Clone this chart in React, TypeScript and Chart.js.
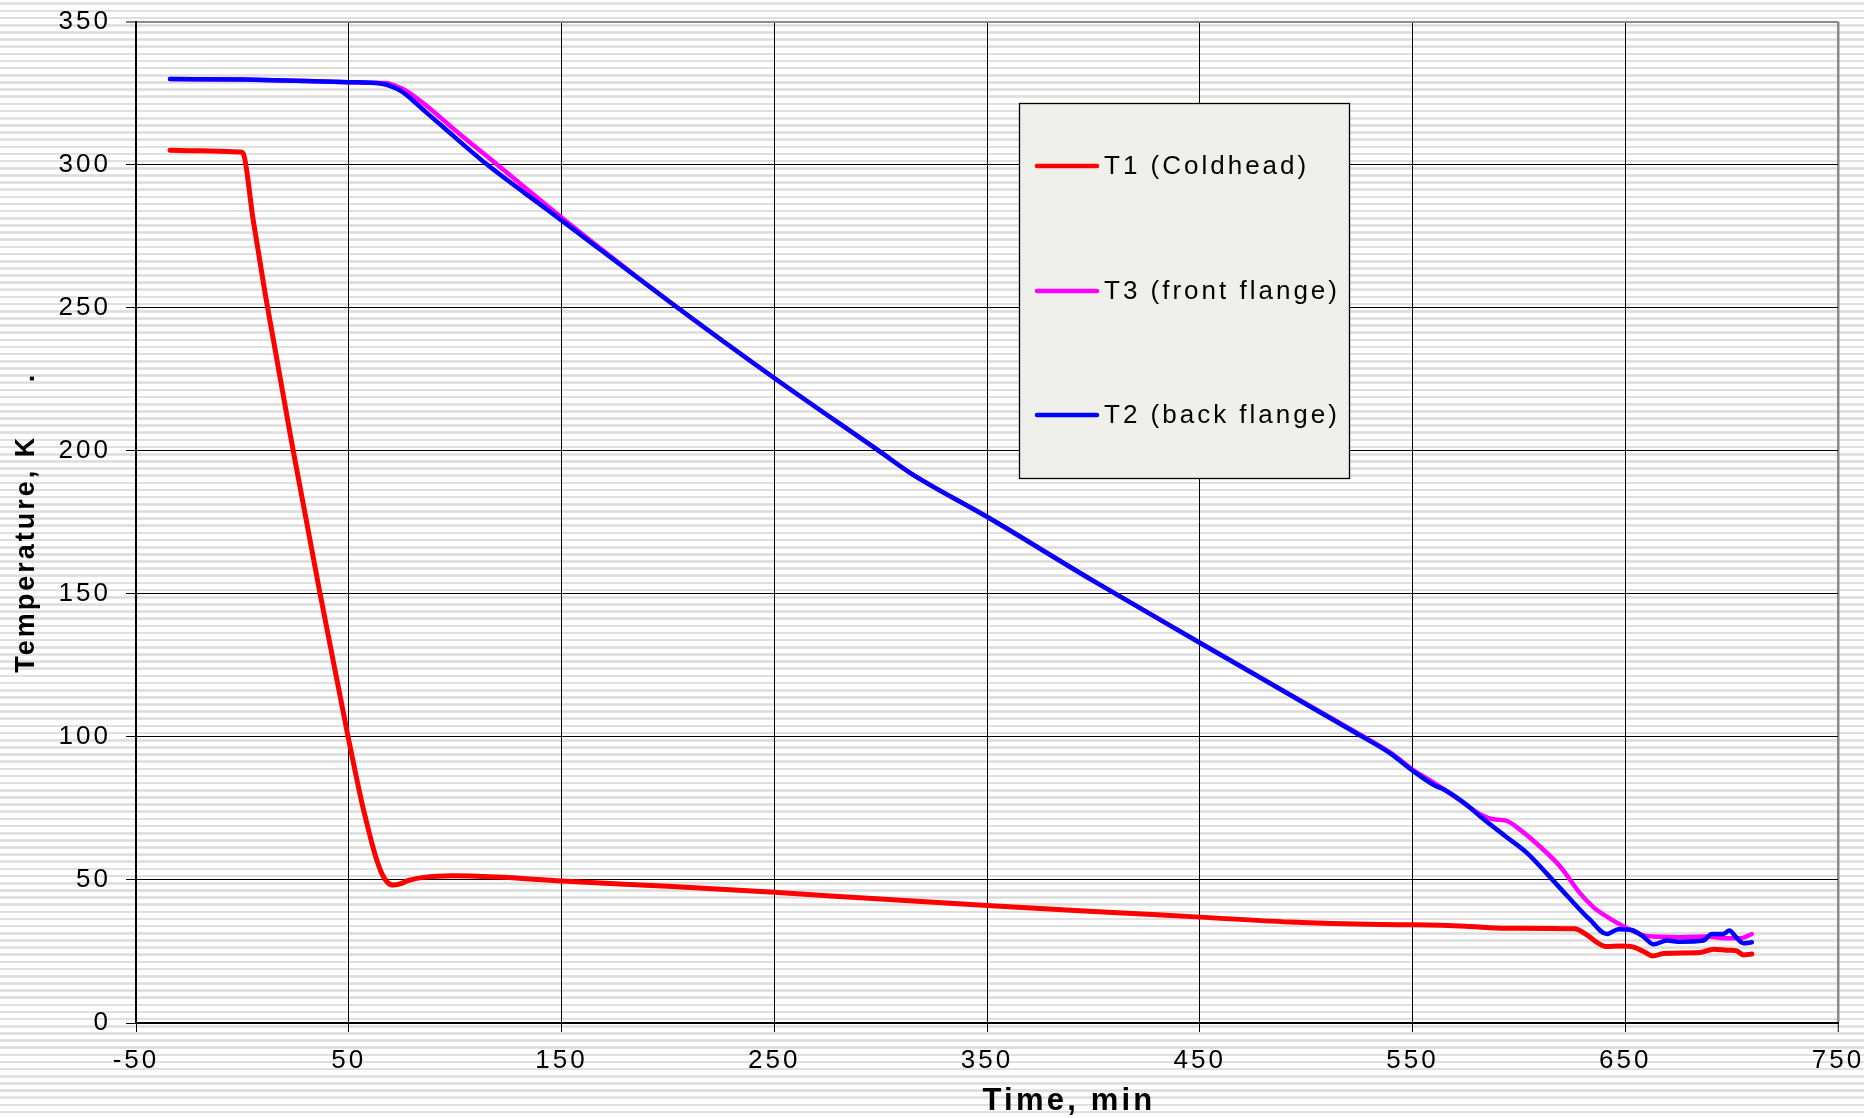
import { useEffect, useRef } from "react";
import { Chart, registerables } from "chart.js";

Chart.register(...registerables);

// ---- data ----
const xTickValues = [-50, 50, 150, 250, 350, 450, 550, 650, 750];
const yTickValues = [0, 50, 100, 150, 200, 250, 300, 350];

const seriesLabels = ["T1 (Coldhead)", "T3 (front flange)", "T2 (back flange)"];
const seriesColors = ["#ff0000", "#ff00ff", "#0000ff"];

const t1Time = [-34, -20, -1, 0.3, 5, 10.9, 23.4, 36.4, 49.7, 53, 56, 58.6, 61, 63.3, 65.5, 68, 71, 74, 78, 85, 99, 120, 150, 200, 250, 300, 350, 400, 450, 492, 535, 551, 575, 594, 626, 632, 636, 641, 648, 654, 659, 663, 668, 685, 691.5, 699, 702, 705.6, 709.5];
const t1Temp = [305.0, 304.8, 304.4, 304.0, 281, 254, 202, 150.5, 100, 88, 77.5, 69.5, 62.5, 56.6, 52.3, 49.3, 48.2, 48.6, 49.8, 50.9, 51.5, 51.0, 49.6, 47.8, 45.7, 43.3, 41.1, 39.0, 37.0, 35.3, 34.4, 34.3, 33.8, 33.1, 32.9, 30.8, 28.5, 26.7, 26.9, 26.5, 24.8, 23.4, 24.3, 24.6, 25.8, 25.4, 25.3, 23.8, 24.1];

const t3Time = [-34, 0, 30, 50, 65, 68, 72, 77.4, 86.8, 100, 119.7, 150, 200, 250, 300, 314, 350, 400, 450, 500, 523, 540, 550, 560, 570, 582, 588, 594, 600.6, 610, 619.4, 628.8, 635, 641.3, 650, 660, 676, 687, 699, 704, 709.5];
const t3Temp = [329.9, 329.7, 329.2, 328.8, 328.5, 328.4, 327.5, 325.6, 320.4, 312, 300, 281.5, 252.5, 225.4, 199.5, 192.2, 176.9, 154.5, 132.9, 111.6, 101.8, 94.3, 88.6, 84, 79, 72.9, 71.2, 70.7, 67.5, 61.6, 54.7, 45.3, 40.5, 37.2, 33.5, 30.4, 30.0, 30.2, 29.6, 29.6, 31.1];

const t2Time = [-34, 0, 30, 50, 65, 70, 75, 80, 86, 93, 115, 143, 150, 200, 250, 300, 314, 350, 400, 450, 500, 523, 540, 550, 560, 565, 575, 582, 594, 604, 613, 623, 633.5, 641.3, 646.8, 653, 658.5, 663.3, 669.5, 676, 686.7, 690.7, 696, 699, 701.6, 705.6, 709.5];
const t2Temp = [329.9, 329.7, 329.2, 328.8, 328.3, 327.3, 325.5, 322.5, 318.5, 314, 300, 284.4, 280.5, 252.5, 225.4, 199.5, 192.2, 176.9, 154.5, 132.9, 111.4, 101.5, 94.0, 88.2, 83.2, 81.5, 76.5, 72.1, 65.1, 59.3, 52.3, 44.2, 36.0, 31.1, 32.8, 32.5, 30.2, 27.5, 28.8, 28.4, 28.8, 31.1, 31.1, 32.3, 30.4, 27.9, 28.2];

const xTitle = "Time, min";
const yTitle = "Temperature, K     .";

const FONT = "'Liberation Sans', Arial, Helvetica, sans-serif";

const toPoints = (xs: number[], ys: number[]) => xs.map((x, i) => ({ x, y: ys[i] }));

const spacingPlugin = {
  id: "letterSpacing",
  beforeLayout(chart: any) {
    chart.ctx.letterSpacing = "3px";
  },
  beforeDraw(chart: any) {
    chart.ctx.letterSpacing = "3px";
  },
};

const xTitlePlugin = {
  id: "xTitle",
  afterDraw(chart: any) {
    const ctx = chart.ctx as CanvasRenderingContext2D;
    ctx.save();
    (ctx as any).letterSpacing = "3.2px";
    ctx.font = `bold 31px ${FONT}`;
    ctx.fillStyle = "#000000";
    ctx.textAlign = "center";
    ctx.textBaseline = "middle";
    ctx.fillText(xTitle, 1069, 1101);
    ctx.restore();
  },
};

const boxLegendPlugin = {
  id: "boxLegend",
  afterDatasetsDraw(chart: any) {
    const ctx = chart.ctx as CanvasRenderingContext2D;
    const left = 1019.5, top = 103.5, w = 330, h = 375;
    ctx.save();
    ctx.fillStyle = "#eff0ec";
    ctx.fillRect(left, top, w, h);
    ctx.strokeStyle = "#000000";
    ctx.lineWidth = 1.3;
    ctx.strokeRect(left, top, w, h);
    const rowY = [166, 291, 415];
    chart.data.datasets.forEach((ds: any, i: number) => {
      const y = rowY[i];
      ctx.strokeStyle = ds.borderColor;
      ctx.lineWidth = 4.5;
      ctx.lineCap = "round";
      ctx.beginPath();
      ctx.moveTo(1037, y);
      ctx.lineTo(1097, y);
      ctx.stroke();
      ctx.fillStyle = "#000000";
      ctx.font = `26px ${FONT}`;
      (ctx as any).letterSpacing = "3px";
      ctx.textAlign = "left";
      ctx.textBaseline = "middle";
      ctx.fillText(ds.label, 1104, y + 1);
    });
    ctx.restore();
  },
};

export default function App() {
  const ref = useRef<HTMLCanvasElement>(null);

  useEffect(() => {
    const canvas = ref.current!;
    const seriesTimes = [t1Time, t3Time, t2Time];
    const seriesTemps = [t1Temp, t3Temp, t2Temp];
    const drawOrder = [2, 1, 0];
    const widths = [5, 4.5, 4.5];

    const chart = new Chart(canvas, {
      type: "line",
      data: {
        datasets: seriesLabels.map((label, i) => ({
          label,
          data: toPoints(seriesTimes[i], seriesTemps[i]),
          borderColor: seriesColors[i],
          backgroundColor: seriesColors[i],
          borderWidth: widths[i],
          pointRadius: 0,
          fill: false,
          cubicInterpolationMode: "monotone" as const,
          borderCapStyle: "round" as const,
          borderJoinStyle: "round" as const,
          order: drawOrder[i],
        })),
      },
      options: {
        animation: false,
        responsive: false,
        devicePixelRatio: 1,
        layout: { padding: { top: 21.5, right: 26, left: 0, bottom: 0 } },
        plugins: {
          legend: { display: false },
          tooltip: { enabled: false },
          title: { display: false },
        },
        scales: {
          x: {
            type: "linear",
            min: -50,
            max: 750,
            afterBuildTicks: (scale: any) => {
              scale.ticks = xTickValues.map((v) => ({ value: v }));
            },
            afterFit: (scale: any) => {
              scale.height = 95;
              scale.paddingLeft = 0;
              scale.paddingRight = 0;
            },
            ticks: {
              color: "#000000",
              font: { family: FONT, size: 26, lineHeight: 1 },
              padding: 16,
              maxRotation: 0,
              autoSkip: false,
            },
            grid: {
              color: (c: any) => (c.tick && c.tick.value === 750 ? "#8a8a8a" : "#000000"),
              lineWidth: (c: any) => (c.tick && c.tick.value === 750 ? 2.5 : 1),
              tickColor: "#000000",
              tickLength: 9,
              tickWidth: 1,
            },
            border: { display: true, color: "#000000", width: 2 },
            title: { display: false },
          },
          y: {
            type: "linear",
            min: 0,
            max: 350,
            afterBuildTicks: (scale: any) => {
              scale.ticks = yTickValues.map((v) => ({ value: v }));
            },
            afterFit: (scale: any) => {
              scale.width = 136;
              scale.paddingTop = 0;
              scale.paddingBottom = 0;
            },
            ticks: {
              color: "#000000",
              font: { family: FONT, size: 26, lineHeight: 1 },
              padding: 15,
              autoSkip: false,
            },
            grid: {
              color: (c: any) => (c.tick && c.tick.value === 350 ? "#8a8a8a" : "#000000"),
              lineWidth: (c: any) => (c.tick && c.tick.value === 350 ? 2 : 1),
              tickColor: "#000000",
              tickLength: 10,
              tickWidth: 1,
            },
            border: { display: true, color: "#000000", width: 2 },
            title: {
              display: true,
              text: yTitle,
              color: "#000000",
              font: { family: FONT, size: 27, weight: "bold", lineHeight: 1 },
              padding: { top: 13, bottom: 0 },
            },
          },
        },
      },
      plugins: [spacingPlugin, boxLegendPlugin, xTitlePlugin],
    });
    return () => chart.destroy();
  }, []);

  const stripes =
    "repeating-linear-gradient(to bottom, #ffffff 0px, #ffffff 4.5px, #e6e6e6 4.5px, #dcdcdc 5.8px, #e6e6e6 7.15px)";

  return (
    <div
      style={{
        position: "fixed",
        left: 0,
        top: 0,
        width: 1864,
        height: 1118,
        backgroundImage: stripes,
        backgroundPosition: "0px -2px",
        overflow: "hidden",
      }}
    >
      <canvas ref={ref} width={1864} height={1118} style={{ display: "block", width: 1864, height: 1118 }} />
    </div>
  );
}
